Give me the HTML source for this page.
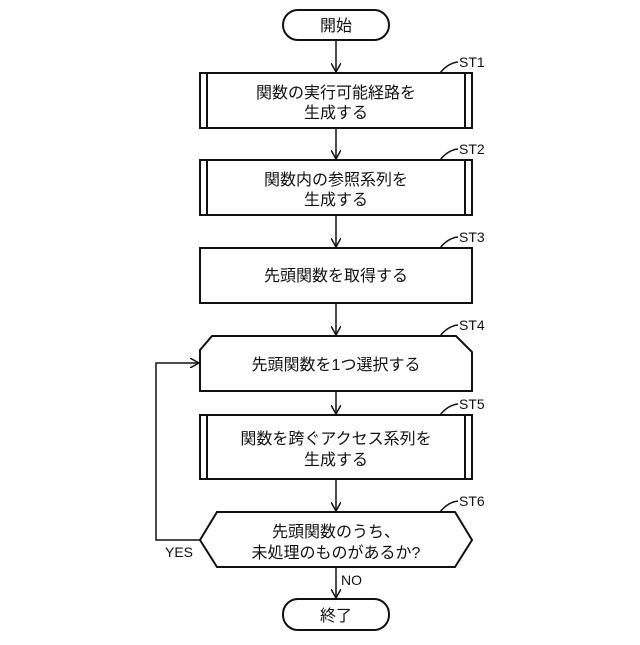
<!DOCTYPE html>
<html><head><meta charset="utf-8"><style>
body{margin:0;background:#fff}
svg text{font-family:"Liberation Sans","Noto Sans CJK JP",sans-serif;fill:#111}
</style></head><body>
<svg width="640" height="640" viewBox="0 0 640 640" xmlns="http://www.w3.org/2000/svg">
<defs><marker id="a" markerWidth="10" markerHeight="10" refX="9" refY="5" orient="auto" markerUnits="userSpaceOnUse"><path d="M0,0 L9,5 L0,10" fill="none" stroke="#111" stroke-width="1.5"/></marker></defs>
<g fill="none" stroke="#111" stroke-width="2">
<rect x="283" y="10" width="106" height="30" rx="15"/>
<rect x="200" y="73" width="272" height="55"/><line x1="207" y1="73" x2="207" y2="128"/><line x1="465" y1="73" x2="465" y2="128"/>
<rect x="200" y="160" width="272" height="55"/><line x1="207" y1="160" x2="207" y2="215"/><line x1="465" y1="160" x2="465" y2="215"/>
<rect x="200" y="248" width="272" height="55"/>
<path d="M212,336 L456,336 L472,352 L472,391 L200,391 L200,350 Z"/>
<rect x="200" y="415" width="272" height="64"/><line x1="207" y1="415" x2="207" y2="479"/><line x1="465" y1="415" x2="465" y2="479"/>
<path d="M217,512 L455,512 L472,540 L455,567 L217,567 L200,540 Z"/>
<rect x="283" y="599" width="106" height="31" rx="15"/>
</g>
<g stroke="#111" stroke-width="1.5" fill="none">
<line x1="336" y1="40" x2="336" y2="72" marker-end="url(#a)"/>
<line x1="336" y1="128" x2="336" y2="159" marker-end="url(#a)"/>
<line x1="336" y1="215" x2="336" y2="247" marker-end="url(#a)"/>
<line x1="336" y1="303" x2="336" y2="335" marker-end="url(#a)"/>
<line x1="336" y1="391" x2="336" y2="414" marker-end="url(#a)"/>
<line x1="336" y1="479" x2="336" y2="511" marker-end="url(#a)"/>
<line x1="336" y1="567" x2="336" y2="598" marker-end="url(#a)"/>
<polyline points="200,540 156,540 156,363 199,363" marker-end="url(#a)"/>
<path d="M440,73 Q448,63 458,62"/><path d="M440,160 Q448,150 458,149"/><path d="M440,248 Q448,238 458,237"/><path d="M440,336 Q448,326 458,325"/><path d="M440,415 Q448,405 458,404"/><path d="M440,512 Q448,502 458,501"/>
</g>
<g font-size="16" text-anchor="middle">
<text x="336" y="31">開始</text>
<text x="336" y="98">関数の実行可能経路を</text><text x="336" y="118">生成する</text>
<text x="336" y="185">関数内の参照系列を</text><text x="336" y="205">生成する</text>
<text x="336" y="281">先頭関数を取得する</text>
<text x="336" y="370">先頭関数を1つ選択する</text>
<text x="336" y="444">関数を跨ぐアクセス系列を</text><text x="336" y="465">生成する</text>
<text x="336" y="537">先頭関数のうち、</text><text x="336" y="558">未処理のものがあるか?</text>
<text x="336" y="621">終了</text>
</g>
<g font-size="14">
<text x="459" y="67">ST1</text><text x="459" y="154">ST2</text><text x="459" y="242">ST3</text><text x="459" y="330">ST4</text><text x="459" y="409">ST5</text><text x="459" y="506">ST6</text>
<text x="165" y="557">YES</text><text x="341" y="585">NO</text>
</g>
</svg>
</body></html>
